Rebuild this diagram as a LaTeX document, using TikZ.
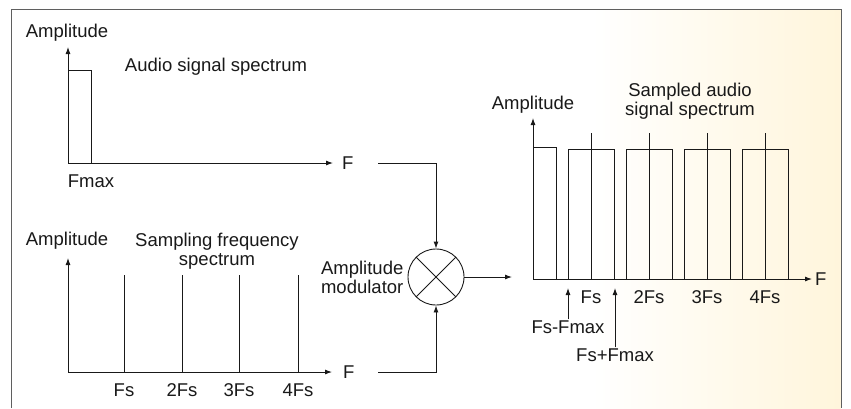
\documentclass[tikz,border=0pt]{standalone}
\usepackage{fontspec}
\setmainfont{Liberation Sans}
\usetikzlibrary{arrows.meta, positioning, calc}
\definecolor{panelleft}{RGB}{252, 238, 192}
\definecolor{panelright}{RGB}{255, 229, 160}
\definecolor{inkgray}{RGB}{25, 25, 25}
\definecolor{framegray}{RGB}{95, 95, 95}
\pgfdeclarehorizontalshading{panelshade}{100bp}{color(0bp)=(panelleft); color(20bp)=(white); color(60bp)=(white); color(100bp)=(panelright)}
\tikzset{
    axisline/.style={draw=inkgray, line width=0.9pt, -{Latex[length=7pt, width=5pt]}},
    specline/.style={draw=inkgray, line width=0.8pt},
    lbl/.style={font=\fontsize{18.5}{19}\selectfont, text=inkgray, inner sep=1pt}
}

\begin{document}
\begin{tikzpicture}[x=1pt, y=-1pt]
    \useasboundingbox (0, 0) rectangle (851, 408);
    \shade[shading=panelshade] (11, 9) rectangle (841, 408);
    \draw[framegray, line width=0.8pt] (11, 408) -- (11, 9) -- (841, 9) -- (841, 408);

    % audio signal spectrum
    \coordinate (AudioO) at (68, 163);
    \draw[axisline] (AudioO) -- ++(0, -116);
    \draw[axisline] (AudioO) -- ++(265, 0);
    \draw[specline] (68, 70) -- (91, 70) -- (91, 163);
    \node[lbl] (AudioAmp) at (67, 33) {Amplitude};
    \node[lbl] (AudioTitle) at (216, 67) {Audio signal spectrum};
    \node[lbl] (AudioFmax) at (91, 181) {Fmax};
    \node[lbl, anchor=west] (AudioF) at (341, 163) {F};

    % sampling frequency spectrum
    \coordinate (SampO) at (68, 372);
    \draw[axisline] (SampO) -- ++(0, -114);
    \draw[axisline] (SampO) -- ++(264, 0);
    \foreach \x/\t [count=\i] in {124/Fs, 182/2Fs, 239/3Fs, 298/4Fs} {
        \draw[specline] (\x, 372) -- (\x, 275);
        \node[lbl] (SampTick\i) at (\x, 390) {\t};
    }
    \node[lbl] (SampAmp) at (67, 241) {Amplitude};
    \node[lbl, align=center] (SampTitle) at (217, 251) {Sampling frequency\\spectrum};
    \node[lbl, anchor=west] (SampF) at (342, 372) {F};

    % amplitude modulator
    \node[circle, draw=inkgray, line width=0.9pt, minimum size=56pt, inner sep=0pt] (Mod) at (436, 277) {};
    \draw[specline] (Mod.north west) -- (Mod.south east);
    \draw[specline] (Mod.north east) -- (Mod.south west);
    \node[lbl, align=right, left=3pt of Mod] (ModLbl) {Amplitude\\modulator};
    \coordinate (AudioOut) at (378, 163);
    \coordinate (SampOut) at (378, 372);
    \coordinate (ModOut) at (512, 277);
    \draw[axisline] (AudioOut) -| (Mod.north);
    \draw[axisline] (SampOut) -| (Mod.south);
    \draw[axisline] (Mod.east) -- (ModOut);

    % sampled audio signal spectrum
    \coordinate (MixO) at (533, 279);
    \draw[axisline] (MixO) -- ++(0, -161);
    \draw[axisline] (MixO) -- ++(279, 0);
    \draw[specline] (533, 147) -- (556, 147) -- (556, 279);
    \foreach \c/\t [count=\i] in {591/Fs, 649/2Fs, 707/3Fs, 765/4Fs} {
        \draw[specline] (\c-23, 279) rectangle (\c+23, 149);
        \draw[specline] (\c, 279) -- (\c, 133);
        \node[lbl] (MixTick\i) at (\c, 297) {\t};
    }
    \node[lbl] (MixAmp) at (533, 105) {Amplitude};
    \node[lbl, align=center] (MixTitle) at (690, 101) {Sampled audio\\signal spectrum};
    \node[lbl, anchor=west] (MixF) at (814, 279) {F};

    \node[lbl] (LowSide) at (568, 327) {Fs-Fmax};
    \node[lbl] (HighSide) at (615, 355) {Fs+Fmax};
    \coordinate (LowTip) at (568, 288);
    \coordinate (HighTip) at (615, 288);
    \draw[axisline] (LowSide.north) -- (LowTip);
    \draw[axisline] (HighSide.north) -- (HighTip);
\end{tikzpicture}
\end{document}
